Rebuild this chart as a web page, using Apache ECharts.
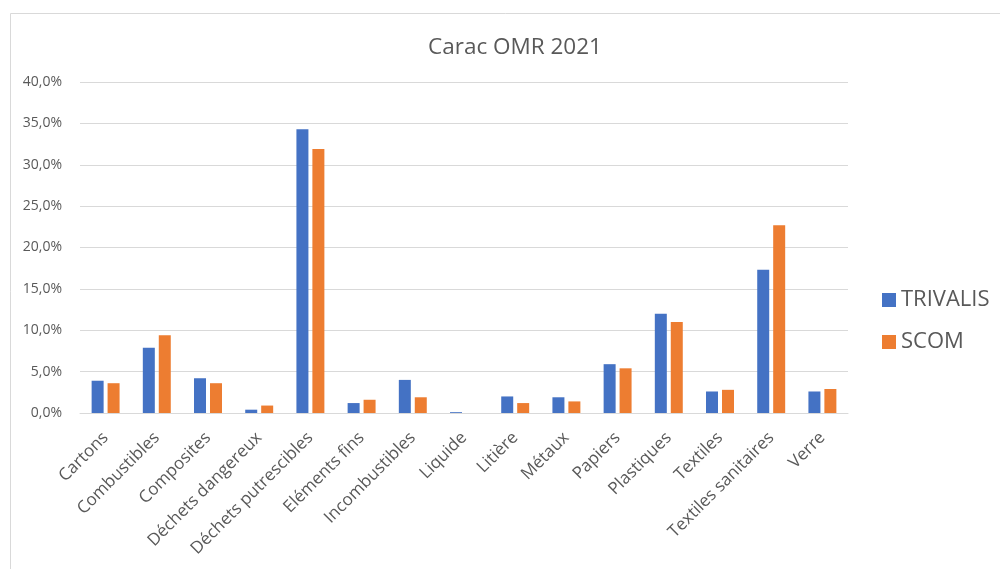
<!DOCTYPE html>
<html>
<head>
<meta charset="utf-8">
<script src="https://cdn.jsdelivr.net/npm/echarts@6/dist/echarts.min.js"></script>
<style>html,body{margin:0;padding:0;background:#fff}#c{width:1000px;height:569px}</style>
</head>
<body>
<div id="c"></div>
<script>
const categories = ["Cartons","Combustibles","Composites","Déchets dangereux","Déchets putrescibles","Eléments fins","Incombustibles","Liquide","Litière","Métaux","Papiers","Plastiques","Textiles","Textiles sanitaires","Verre"];
const trivalis = [3.9, 7.9, 4.2, 0.4, 34.3, 1.2, 4.0, 0.1, 2.0, 1.9, 5.9, 12.0, 2.6, 17.3, 2.6];
const scom = [3.6, 9.4, 3.6, 0.9, 31.9, 1.6, 1.9, 0.0, 1.2, 1.4, 5.4, 11.0, 2.8, 22.7, 2.9];
const yTicks = {min: 0, max: 40, interval: 5};

const font = '"Open Sans", sans-serif';
const chart = echarts.init(document.getElementById('c'));
chart.setOption({
  animation: false,
  title: {text: 'Carac OMR 2021', left: 510, top: 31, textAlign: 'center',
    textStyle: {fontFamily: font, fontSize: 22.5, fontWeight: 'normal', color: '#595959'}},
  graphic: [{type: 'rect', shape: {x: 10.5, y: 13.5, width: 1000, height: 600},
    style: {fill: 'none', stroke: '#D9D9D9', lineWidth: 1}, silent: true}],
  legend: {orient: 'vertical', left: 877, top: 284, itemGap: 20, itemWidth: 14, itemHeight: 14,
    icon: 'rect', textStyle: {fontFamily: font, fontSize: 22, color: '#595959'},
    data: ['TRIVALIS', 'SCOM']},
  grid: {left: 80, right: 152, top: 82, bottom: 156},
  xAxis: {type: 'category', data: categories,
    axisLine: {lineStyle: {color: '#D9D9D9'}}, axisTick: {show: false},
    axisLabel: {rotate: 45, interval: 0, fontFamily: font, fontSize: 17, color: '#595959', margin: 22}},
  yAxis: {type: 'value', min: yTicks.min, max: yTicks.max, interval: yTicks.interval,
    axisLine: {show: false}, axisTick: {show: false},
    splitLine: {lineStyle: {color: '#D9D9D9'}},
    axisLabel: {fontFamily: font, fontSize: 14, color: '#595959', margin: 18,
      formatter: v => v.toFixed(1).replace('.', ',') + '%'}},
  series: [
    {name: 'TRIVALIS', type: 'bar', data: trivalis, barWidth: 12, barGap: '33%',
      itemStyle: {color: '#4472C4'}},
    {name: 'SCOM', type: 'bar', data: scom, barWidth: 12, barGap: '33%',
      itemStyle: {color: '#ED7D31'}}
  ]
});
</script>
</body>
</html>
